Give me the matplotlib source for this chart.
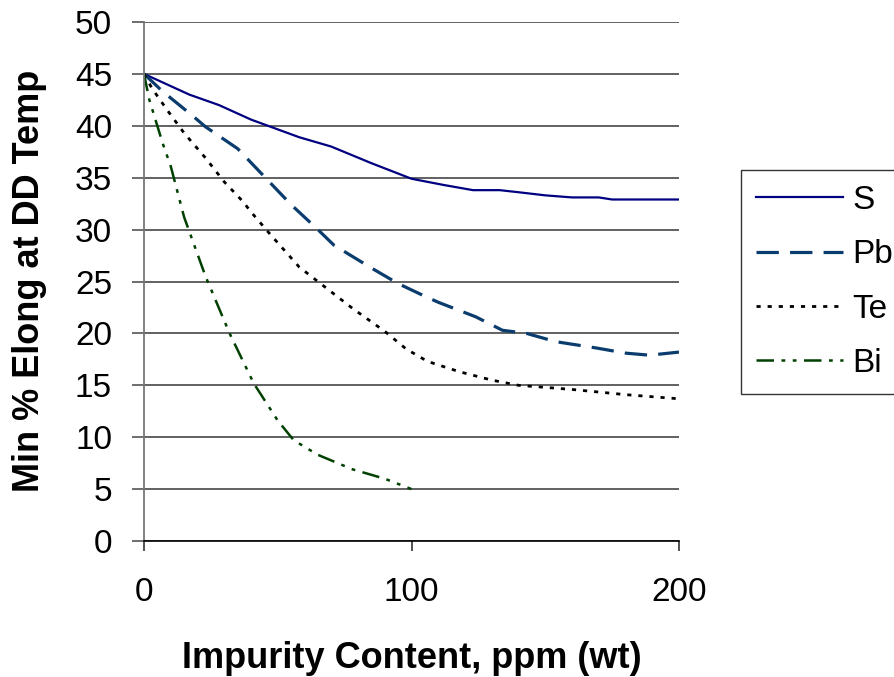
import matplotlib
matplotlib.use("Agg")
import matplotlib.pyplot as plt

plt.rcParams['font.family'] = ['Liberation Sans', 'DejaVu Sans']

s_x = [0, 17, 28, 40, 58, 70, 85, 100, 112, 123, 133, 140, 150, 160, 170, 175, 200]
s_y = [45, 43.0, 42.0, 40.6, 38.9, 38.0, 36.4, 34.9, 34.3, 33.8, 33.8, 33.6, 33.3, 33.1, 33.1, 32.9, 32.9]

pb_x = [0, 7, 18, 23, 35, 45, 55, 65, 71, 85, 95, 104, 110, 124, 134, 143, 154, 169, 180, 189, 200]
pb_y = [45, 43.3, 41.0, 39.9, 37.8, 35.1, 32.4, 30.0, 28.5, 26.3, 24.8, 23.7, 23.0, 21.6, 20.3, 20.0, 19.2, 18.6, 18.1, 17.9, 18.2]

te_x = [0, 3, 9, 15, 23, 30, 37, 40, 47, 58, 65, 78, 90, 98, 106, 118, 130, 140, 160, 180, 200]
te_y = [45, 43.6, 41.4, 39.3, 36.9, 34.6, 32.7, 31.7, 29.6, 26.4, 25.0, 22.4, 20.2, 18.5, 17.3, 16.3, 15.5, 15.0, 14.6, 14.1, 13.7]

bi_x = [0, 2, 7, 10, 15, 23, 32, 41, 50, 56, 65, 78, 90, 100]
bi_y = [45, 42.5, 38.3, 36.1, 31.2, 25.5, 20.0, 15.2, 11.6, 9.7, 8.3, 6.9, 6.0, 5.0]

x_ticks = [0, 100, 200]
y_ticks = list(range(0, 51, 5))

fig = plt.figure(figsize=(8.94, 6.77), dpi=100)
ax = fig.add_axes([144/894, 1-541/677, (679-144)/894, (541-22)/677])

ax.plot(s_x, s_y, color='#000080', lw=1.6, linestyle='-', label='S')
ax.plot(pb_x, pb_y, color='#0a3c6e', lw=2.3, linestyle=(0, (7, 3.5)), label='Pb')
ax.plot(te_x, te_y, color='#000000', lw=2.0, linestyle=(0, (1.5, 2.5)), label='Te')
ax.plot(bi_x, bi_y, color='#004000', lw=1.8, linestyle=(0, (7, 3, 1.5, 3, 1.5, 3)), label='Bi')

ax.set_xlim(0, 200)
ax.set_ylim(0, 50)
ax.set_xticks(x_ticks)
ax.set_yticks(y_ticks)
ax.yaxis.grid(True, color='#555555', lw=1.3)
ax.set_axisbelow(True)
for sp in ['top', 'right']:
    ax.spines[sp].set_visible(False)
ax.spines['left'].set_color('#777777')
ax.spines['left'].set_linewidth(1.3)
ax.spines['bottom'].set_color('#000000')
ax.spines['bottom'].set_linewidth(1.2)
ax.tick_params(axis='y', direction='out', length=9, width=1.2, color='#555555', labelsize=24, pad=14)
ax.tick_params(axis='x', direction='out', length=7, width=1.2, color='#333333', labelsize=24, pad=19)

ax.set_xlabel('Impurity Content, ppm (wt)', fontsize=26, fontweight='bold', va='center')
ax.set_ylabel('Min % Elong at DD Temp', fontsize=26, fontweight='bold', va='center')
ax.xaxis.set_label_coords((412-144)/535, (541-658)/519)
ax.yaxis.set_label_coords((30-144)/535, (541-281)/519)

leg = fig.legend(loc='upper left', bbox_to_anchor=(741/894, 1-170/677), borderaxespad=0,
                 fontsize=24, frameon=True, fancybox=False, edgecolor='#000000',
                 handlelength=2.6, labelspacing=0.7, borderpad=0.45, handletextpad=0.3)
leg.get_frame().set_linewidth(1.0)

fig.savefig('out.png', dpi=100)
